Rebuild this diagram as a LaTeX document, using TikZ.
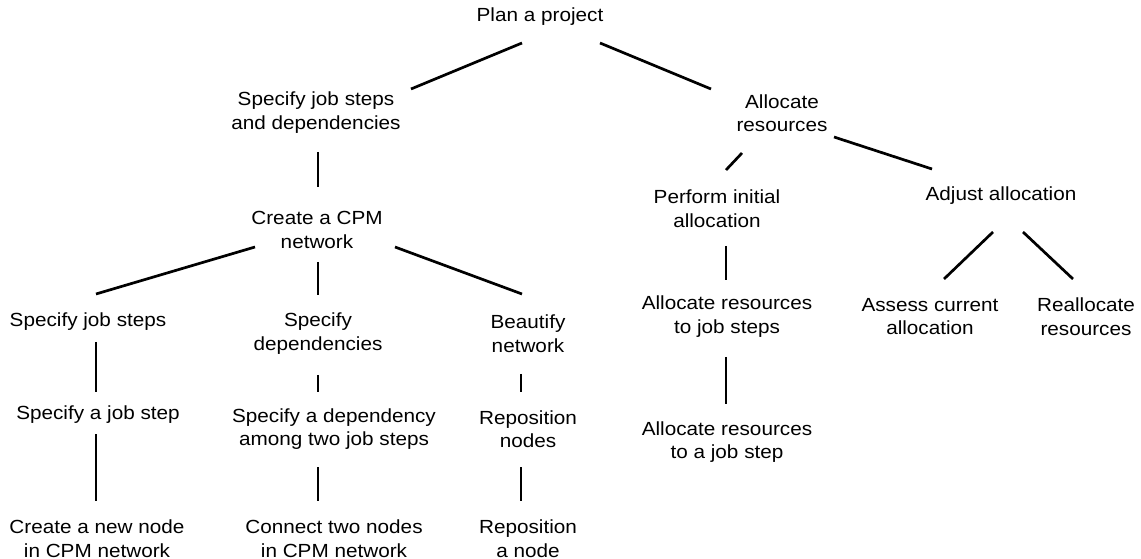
\documentclass[tikz,border=0pt]{standalone}
\usepackage{fontspec}
\setmainfont[FakeStretch=1.09]{Liberation Sans}
\usetikzlibrary{calc}
\begin{document}
\begin{tikzpicture}[x=1bp,y=-1bp,
  lbl/.style={align=center, font=\fontsize{19bp}{23.5bp}\selectfont, inner sep=0pt},
  edge/.style={line width=2.7bp}]
\useasboundingbox (0,0) rectangle (1141,559);
% nodes
\node[lbl] (plan)    at (540,17)    {Plan a project};
\node[lbl] (sjd)     at (316,112.5) {Specify job steps\\and dependencies};
\node[lbl] (alloc)   at (782,113)   {Allocate\\resources};
\node[lbl] (cpm)     at (317,230)   {Create a CPM\\network};
\node[lbl] (perf)    at (717,208.5) {Perform initial\\allocation};
\node[lbl] (adj)     at (1001,196)  {Adjust allocation};
\node[lbl] (sjs)     at (88,322)    {Specify job steps};
\node[lbl] (sdep)    at (318,333.5) {Specify\\dependencies};
\node[lbl] (beau)    at (528,333.5) {Beautify\\network};
\node[lbl] (sajs)    at (98,415)    {Specify a job step};
\node[lbl] (sad)     at (334,429)   {Specify a dependency\\among two job steps};
\node[lbl] (repn)    at (528,429)   {Reposition\\nodes};
\node[lbl] (arjs)    at (727,316.5) {Allocate resources\\to job steps};
\node[lbl] (aras)    at (727,442)   {Allocate resources\\to a job step};
\node[lbl] (assess)  at (930,316.5) {Assess current\\allocation};
\node[lbl] (realloc) at (1086,316.5){Reallocate\\resources};
\node[lbl] (cnn)     at (97,538.5)  {Create a new node\\in CPM network};
\node[lbl] (ctn)     at (334,538.5) {Connect two nodes\\in CPM network};
\node[lbl] (ran)     at (528,538.5) {Reposition\\a node};
% connectors
\draw[edge] ($(plan)+(-18,26)$)  -- ($(sjd)+(95,-23.5)$);
\draw[edge] ($(plan)+(60,26)$)   -- ($(alloc)+(-71,-24)$);
\draw[edge] ($(sjd)+(2,39.5)$)   -- ($(cpm)+(1,-43)$);
\draw[edge] ($(cpm)+(-62,17)$)   -- ($(sjs)+(8,-28)$);
\draw[edge] ($(cpm)+(1,32)$)     -- ($(sdep)+(0,-38.5)$);
\draw[edge] ($(cpm)+(78,17)$)    -- ($(beau)+(-6,-39.5)$);
\draw[edge] ($(alloc)+(-40,40)$) -- ($(perf)+(9,-38.5)$);
\draw[edge] ($(alloc)+(52,24)$)  -- ($(adj)+(-69,-27)$);
\draw[edge] ($(perf)+(9,37.5)$)  -- ($(arjs)+(-1,-36.5)$);
\draw[edge] ($(adj)+(-8,36)$)    -- ($(assess)+(14,-37.5)$);
\draw[edge] ($(adj)+(22,36)$)    -- ($(realloc)+(-13,-37.5)$);
\draw[edge] ($(sjs)+(8,20)$)     -- ($(sajs)+(-2,-23)$);
\draw[edge] ($(sajs)+(-2,19)$)   -- ($(cnn)+(-1,-37.5)$);
\draw[edge] ($(sdep)+(0,41.5)$)  -- ($(sad)+(-16,-37)$);
\draw[edge] ($(sad)+(-16,38)$)   -- ($(ctn)+(-16,-37.5)$);
\draw[edge] ($(beau)+(-7,40.5)$) -- ($(repn)+(-7,-37)$);
\draw[edge] ($(repn)+(-7,38)$)   -- ($(ran)+(-7,-37.5)$);
\draw[edge] ($(arjs)+(-1,40.5)$) -- ($(aras)+(-1,-38)$);
\end{tikzpicture}
\end{document}
